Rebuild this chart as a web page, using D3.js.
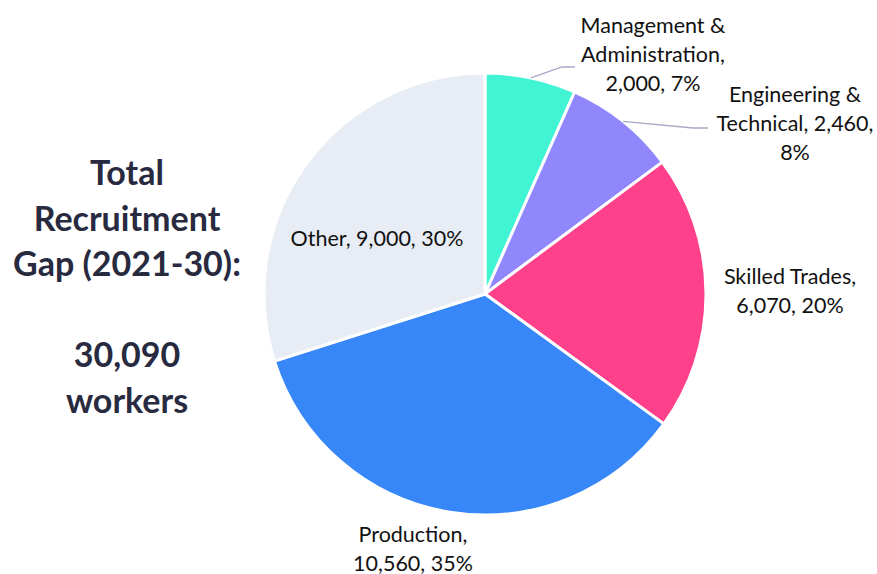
<!DOCTYPE html>
<html>
<head>
<meta charset="utf-8">
<script src="https://cdn.jsdelivr.net/npm/d3@7"></script>
<style>
  body { margin: 0; background: #fff; }
  text { font-family: Lato, "Open Sans", sans-serif; }
</style>
</head>
<body>
<svg id="chart" width="877" height="574"></svg>
<script>
// data
const categories = ['Management & Administration', 'Engineering & Technical', 'Skilled Trades', 'Production', 'Other'];
const workers = [2000, 2460, 6070, 10560, 9000];
const colors = ['#40F4D4', '#9187FD', '#FF418B', '#3887F8', '#E8EDF5'];
// label lines as they wrap in the picture
const labelLines = [
  ['Management &', 'Administration,', '2,000, 7%'],
  ['Engineering &', 'Technical, 2,460,', '8%'],
  ['Skilled Trades,', '6,070, 20%'],
  ['Production,', '10,560, 35%'],
  ['Other, 9,000, 30%']
];
const labelPos = [[653, 33], [795, 102], [790, 284], [413, 542], [377, 246]];
const titleLines = ['Total', 'Recruitment', 'Gap (2021-30):', '', '30,090', 'workers'];

const svg = d3.select('#chart');
const cx = 485, cy = 294, radius = 221;

const data = categories.map((c, i) => ({ name: c, value: workers[i], color: colors[i], lines: labelLines[i], pos: labelPos[i] }));

const pie = d3.pie().value(d => d.value).sort(null);
const arc = d3.arc().innerRadius(0).outerRadius(radius);

const g = svg.append('g').attr('transform', `translate(${cx},${cy})`);
const arcs = pie(data);

g.selectAll('path')
  .data(arcs)
  .join('path')
  .attr('d', arc)
  .attr('fill', d => d.data.color)
  .attr('stroke', '#fff')
  .attr('stroke-width', 3)
  .attr('stroke-linejoin', 'round');

// leader lines for the two small slices
const leaderArc = d3.arc().innerRadius(radius).outerRadius(radius);
const leaders = [
  { i: 0, frac: 0.5, mid: [562, 67], end: [575, 67] },
  { i: 1, frac: 0.5, mid: [693, 128], end: [708, 128] }
];
leaders.forEach(l => {
  const a = arcs[l.i];
  const ang = a.startAngle + (a.endAngle - a.startAngle) * l.frac;
  const p = leaderArc.centroid({ startAngle: ang, endAngle: ang });
  svg.append('polyline')
    .attr('points', [[cx + p[0], cy + p[1]], l.mid, l.end].map(q => q.join(',')).join(' '))
    .attr('fill', 'none')
    .attr('stroke', '#A7A9C6')
    .attr('stroke-width', 1.3);
});

// slice labels
data.forEach(d => {
  const t = svg.append('text')
    .attr('text-anchor', 'middle')
    .attr('font-size', 21.5)
    .attr('fill', '#111');
  d.lines.forEach((line, k) => {
    t.append('tspan')
      .attr('x', d.pos[0])
      .attr('y', d.pos[1] + k * 29)
      .text(line);
  });
});

// big total text on the left
const title = svg.append('text')
  .attr('text-anchor', 'middle')
  .attr('font-size', 34)
  .attr('font-weight', 'bold')
  .attr('fill', '#282A40');
titleLines.forEach((line, k) => {
  title.append('tspan')
    .attr('x', 127)
    .attr('y', 185 + k * 45.5)
    .text(line);
});
</script>
</body>
</html>
